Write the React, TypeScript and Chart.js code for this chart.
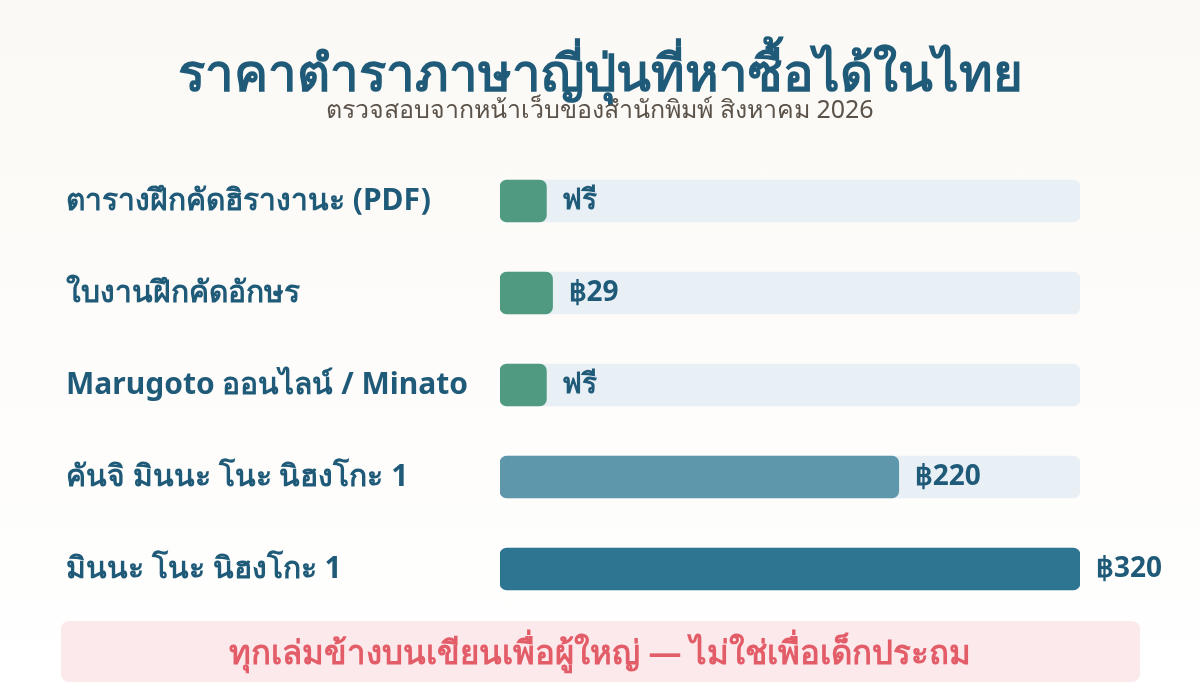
import React, { useEffect, useRef } from "react";
import { Chart, registerables } from "chart.js";

Chart.register(...registerables);

const categories = [
  "ตารางฝึกคัดฮิรางานะ (PDF)",
  "ใบงานฝึกคัดอักษร",
  "Marugoto ออนไลน์ / Minato",
  "คันจิ มินนะ โนะ นิฮงโกะ 1",
  "มินนะ โนะ นิฮงโกะ 1",
];
const prices = [0, 29, 0, 220, 320];
const barColors = ["#4f9a80", "#4f9a80", "#4f9a80", "#5e96ac", "#2e7591"];
const freeLabel = "ฟรี";
const currency = "฿";
const titleText = "ราคาตำราภาษาญี่ปุ่นที่หาซื้อได้ในไทย";
const subtitleText = "ตรวจสอบจากหน้าเว็บของสำนักพิมพ์ สิงหาคม 2026";
const noteText = "ทุกเล่มข้างบนเขียนเพื่อผู้ใหญ่ — ไม่ใช่เพื่อเด็กประถม";

const FONT = "'Noto Sans', 'Open Sans', sans-serif";
const maxPrice = Math.max(...prices);
const minShown = maxPrice * 0.08;
const shownValues = prices.map((v) => Math.max(v, minShown));
const trackValues = prices.map(() => maxPrice);

export default function App() {
  const ref = useRef<HTMLCanvasElement | null>(null);

  useEffect(() => {
    if (!ref.current) return;
    const decor = {
      id: "decor",
      afterDatasetsDraw(chart: any) {
        const ctx = chart.ctx;
        const meta = chart.getDatasetMeta(0);
        ctx.save();
        ctx.font = `bold 28px ${FONT}`;
        ctx.fillStyle = "#1f5a78";
        ctx.textAlign = "left";
        ctx.textBaseline = "middle";
        meta.data.forEach((bar: any, i: number) => {
          const label = prices[i] === 0 ? freeLabel : currency + prices[i];
          ctx.fillText(label, bar.x + 16, bar.y);
        });
        ctx.restore();
      },
      afterDraw(chart: any) {
        const ctx = chart.ctx;
        ctx.save();
        ctx.textAlign = "center";
        ctx.textBaseline = "alphabetic";
        ctx.fillStyle = "#1f5a78";
        ctx.font = `bold 51px ${FONT}`;
        ctx.fillText(titleText, 600, 91);
        ctx.fillStyle = "#5b534a";
        ctx.font = `25px ${FONT}`;
        ctx.fillText(subtitleText, 600, 118);

        // note box
        ctx.fillStyle = "#fce9ec";
        ctx.beginPath();
        (ctx as any).roundRect(61, 621, 1079, 61, 8);
        ctx.fill();
        ctx.fillStyle = "#e35d68";
        ctx.font = `bold 33px ${FONT}`;
        ctx.fillText(noteText, 600, 664);
        ctx.restore();
      },
    };

    const chart = new Chart(ref.current, {
      type: "bar",
      data: {
        labels: categories,
        datasets: [
          {
            label: "price",
            data: shownValues,
            backgroundColor: barColors,
            borderRadius: 7,
            borderSkipped: false,
            barThickness: 42,
            grouped: false,
            order: 1,
          },
          {
            label: "track",
            data: trackValues,
            backgroundColor: "#e8f0f5",
            borderRadius: 7,
            borderSkipped: false,
            barThickness: 42,
            grouped: false,
            order: 2,
          },
        ],
      },
      options: {
        indexAxis: "y",
        responsive: false,
        animation: false,
        events: [],
        layout: { padding: { left: 66, right: 120, top: 155, bottom: 85 } },
        plugins: {
          legend: { display: false },
          tooltip: { enabled: false },
          title: { display: false },
        },
        scales: {
          x: { display: false, min: 0, max: maxPrice },
          y: {
            grid: { display: false },
            border: { display: false },
            ticks: {
              crossAlign: "far",
              color: "#1f5a78",
              font: { family: FONT, size: 30, weight: "bold" },
              padding: 0,
            },
            afterFit(scale: any) {
              scale.width = 500 - 66;
            },
          },
        },
      },
      plugins: [decor],
    } as any);
    return () => chart.destroy();
  }, []);

  return (
    <div
      style={{
        position: "absolute",
        left: 0,
        top: 0,
        width: 1200,
        height: 700,
        background: "linear-gradient(to bottom, #fbf9f5 0%, #ffffff 100%)",
      }}
    >
      <canvas ref={ref} width={1200} height={700} style={{ display: "block" }} />
    </div>
  );
}
